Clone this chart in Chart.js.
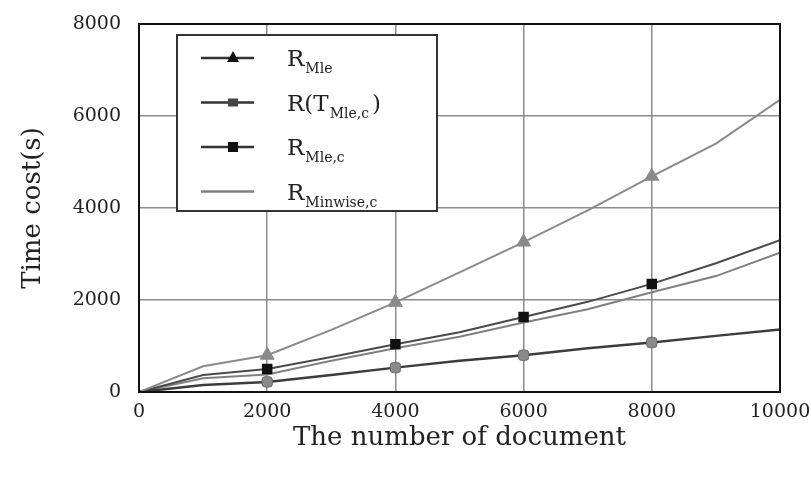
<!DOCTYPE html>
<html>
<head>
<meta charset="utf-8">
<script src="https://cdn.jsdelivr.net/npm/chart.js@4"></script>
<style>
  html, body { margin: 0; padding: 0; background: #fff; }
  #wrap { width: 811px; height: 478px; position: relative; }
</style>
</head>
<body>
<div id="wrap"><canvas id="myChart"></canvas></div>
<script>
// number of documents (x)
const docs = [0, 1000, 2000, 3000, 4000, 5000, 6000, 7000, 8000, 9000, 10000];
// time cost (s)
const rMle     = [0, 560, 800, 1350, 1950, 2600, 3260, 3950, 4690, 5400, 6350];
const rTMlec   = [0, 150, 220, 370, 530, 680, 800, 950, 1075, 1220, 1360];
const rMlec    = [0, 370, 500, 760, 1040, 1300, 1630, 1960, 2350, 2800, 3300];
const rMinwise = [0, 300, 380, 680, 950, 1200, 1510, 1800, 2170, 2520, 3030];

const xTicks = [0, 2000, 4000, 6000, 8000, 10000];
const yTicks = [0, 2000, 4000, 6000, 8000];

// legend text: main part, subscript, tail
const legMain = ['R', 'R(T', 'R', 'R'];
const legSub  = ['Mle', 'Mle,c', 'Mle,c', 'Minwise,c'];
const legTail = ['', ')', '', ''];

const serif = "'DejaVu Serif', serif";

// markers only on the 2000-step grid columns
const markerAt = (r) => (ctx) => {
  const x = docs[ctx.dataIndex];
  return (x % 2000 === 0 && x > 0 && x < 10000) ? r : 0;
};

const toXY = (ys) => docs.map((x, i) => ({ x: x, y: ys[i] }));

const data = {
  datasets: [
    {
      label: 'RMle',
      data: toXY(rMle),
      borderColor: '#8a8a8a',
      backgroundColor: '#8a8a8a',
      borderWidth: 2,
      pointStyle: 'triangle',
      pointRadius: markerAt(8),
      pointBorderWidth: 1,
    },
    {
      label: 'R(TMle,c)',
      data: toXY(rTMlec),
      borderColor: '#3c3c3c',
      backgroundColor: '#8a8a8a',
      borderWidth: 2.5,
      pointStyle: 'rectRounded',
      pointRadius: markerAt(6),
      pointBorderColor: '#6a6a6a',
      pointBorderWidth: 1,
    },
    {
      label: 'RMle,c',
      data: toXY(rMlec),
      borderColor: '#4a4a4a',
      backgroundColor: '#111',
      borderWidth: 2,
      pointStyle: 'rect',
      pointRadius: markerAt(6),
      pointBorderColor: '#111',
    },
    {
      label: 'RMinwise,c',
      data: toXY(rMinwise),
      borderColor: '#808080',
      backgroundColor: '#808080',
      borderWidth: 2,
      pointRadius: 0,
    },
  ],
};

// frame round the plot area + boxed legend with subscripts
const framePlugin = {
  id: 'frame',
  afterDraw(chart) {
    const { ctx, chartArea: a } = chart;
    ctx.save();
    ctx.strokeStyle = '#111';
    ctx.lineWidth = 2;
    ctx.strokeRect(a.left, a.top, a.right - a.left, a.bottom - a.top);

    // legend
    const bx = a.left + 38, by = a.top + 11, bw = 260, bh = 176;
    ctx.fillStyle = '#fff';
    ctx.fillRect(bx, by, bw, bh);
    ctx.strokeStyle = '#333';
    ctx.lineWidth = 2;
    ctx.strokeRect(bx, by, bw, bh);

    chart.data.datasets.forEach((ds, i) => {
      const y = by + 23 + i * 44.5;
      ctx.strokeStyle = i === 3 ? '#808080' : '#333';
      ctx.lineWidth = 2.5;
      ctx.beginPath();
      ctx.moveTo(bx + 24, y);
      ctx.lineTo(bx + 77, y);
      ctx.stroke();
      const mx = bx + 56;
      ctx.fillStyle = '#111';
      if (i === 0) {
        ctx.beginPath();
        ctx.moveTo(mx, y - 7);
        ctx.lineTo(mx + 6, y + 4);
        ctx.lineTo(mx - 6, y + 4);
        ctx.closePath();
        ctx.fill();
      } else if (i === 1) {
        ctx.fillStyle = '#444';
        ctx.fillRect(mx - 5, y - 4, 10, 8);
      } else if (i === 2) {
        ctx.fillRect(mx - 5, y - 5, 10, 10);
      }
      // text
      ctx.fillStyle = '#222';
      ctx.textBaseline = 'alphabetic';
      ctx.textAlign = 'left';
      let tx = bx + 110;
      ctx.font = '23px ' + serif;
      ctx.fillText(legMain[i], tx, y + 8);
      tx += ctx.measureText(legMain[i]).width + 1;
      ctx.font = '14px ' + serif;
      ctx.fillText(legSub[i], tx, y + 15);
      tx += ctx.measureText(legSub[i]).width + 3;
      if (legTail[i]) {
        ctx.font = '23px ' + serif;
        ctx.fillText(legTail[i], tx, y + 8);
      }
    });
    ctx.restore();
  },
};

const options = {
  responsive: true,
  maintainAspectRatio: false,
  animation: false,
  layout: { padding: { top: 24, right: 31, left: 0, bottom: 0 } },
  plugins: { legend: { display: false }, tooltip: { enabled: false } },
  scales: {
    x: {
      type: 'linear',
      min: 0,
      max: 10000,
      afterFit: (s) => { s.height = 86; s.paddingLeft = 0; s.paddingRight = 0; },
      afterBuildTicks: (s) => { s.ticks = xTicks.map((v) => ({ value: v })); },
      grid: { color: '#8c8c8c', lineWidth: 1.5, drawTicks: false },
      border: { display: false },
      ticks: {
        padding: 9,
        color: '#222',
        font: { family: serif, size: 19 },
        maxRotation: 0,
        callback: (v) => String(v),
      },
      title: {
        display: true,
        text: 'The number of document',
        color: '#222',
        font: { family: serif, size: 26 },
        padding: { top: 0, bottom: 24 },
      },
    },
    y: {
      min: 0,
      max: 8000,
      afterFit: (s) => { s.width = 139; s.paddingTop = 0; s.paddingBottom = 0; },
      afterBuildTicks: (s) => { s.ticks = yTicks.map((v) => ({ value: v })); },
      grid: { color: '#8c8c8c', lineWidth: 1.5, drawTicks: false },
      border: { display: false },
      ticks: {
        padding: 18,
        color: '#222',
        font: { family: serif, size: 19 },
        callback: (v) => String(v),
      },
      title: {
        display: true,
        text: 'Time cost(s)',
        color: '#222',
        font: { family: serif, size: 26 },
        padding: { top: 18, bottom: 0 },
      },
    },
  },
};

const ctx = document.getElementById('myChart').getContext('2d');
const myChart = new Chart(ctx, {
  type: 'line',
  data: data,
  options: options,
  plugins: [framePlugin],
});
</script>
</body>
</html>
